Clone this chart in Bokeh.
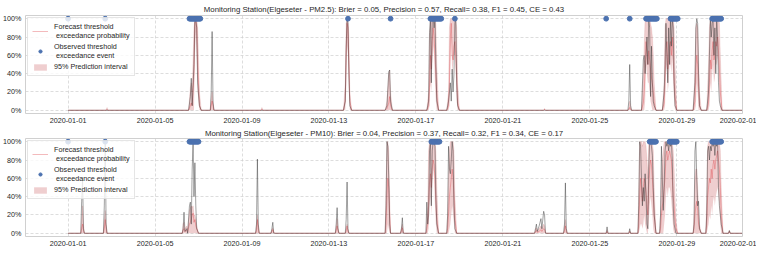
import numpy as np
import pandas as pd
from bokeh.plotting import figure
from bokeh.layouts import column
from bokeh.models import (ColumnDataSource, Range1d, FixedTicker, DatetimeTickFormatter,
                          NumeralTickFormatter, Legend, LegendItem)
from bokeh.embed import file_html
from bokeh.resources import INLINE

# ---------------- data (hours since 2020-01-01 00:00) ----------------
xtick_labels = ["2020-01-01", "2020-01-05", "2020-01-09", "2020-01-13", "2020-01-17",
                "2020-01-21", "2020-01-25", "2020-01-29", "2020-02-01"]
ytick_values = [0.0, 0.2, 0.4, 0.6, 0.8, 1.0]

titles = [
    "Monitoring Station(Elgeseter - PM2.5): Brier = 0.05, Precision = 0.57, Recall= 0.38, F1 = 0.45, CE = 0.43",
    "Monitoring Station(Elgeseter - PM10): Brier = 0.04, Precision = 0.37, Recall= 0.32, F1 = 0.34, CE = 0.17",
]

# PM2.5 keypoints: hour, forecast prob, lower, upper, black line
pm25_hours = [0, 42, 43, 44, 133, 135, 136, 137, 139, 140, 141, 142, 143, 145, 147,
              157, 158, 159, 160, 161, 213, 214, 215,
              304, 306, 307, 308, 309, 310, 311, 313,
              350, 352, 354, 355, 356, 358,
              396, 398, 399, 400, 401, 402, 403, 404, 405, 406, 407, 409,
              418, 420, 421, 422, 423, 424, 425, 426, 427, 428, 429, 430, 432,
              525, 526, 527, 618, 619, 620, 621, 622,
              633, 635, 636, 637, 638, 639, 640, 641, 642, 643, 644, 645, 646, 647, 649,
              656, 658, 659, 660, 661, 662, 663, 664, 665, 666, 667, 668, 669, 670, 672,
              690, 692, 693, 694, 695, 696, 697, 699,
              705, 707, 708, 709, 710, 711, 712, 713, 714, 715, 716, 717, 718, 719, 720, 722, 744]
pm25_prob = [0, 0, 0.01, 0, 0, 0.05, 0.08, 0.05, 0.40, 0.95, 1.0, 0.90, 0.50, 0.05, 0,
             0, 0.05, 0.10, 0.05, 0, 0, 0.01, 0,
             0, 0.10, 0.60, 0.95, 0.90, 0.50, 0.10, 0,
             0, 0.02, 0.08, 0.15, 0.05, 0,
             0, 0.05, 0.25, 0.60, 0.45, 0.75, 0.90, 0.80, 0.60, 0.40, 0.15, 0,
             0, 0.05, 0.30, 0.80, 0.95, 0.60, 0.55, 0.70, 0.75, 0.60, 0.35, 0.08, 0,
             0, 0.01, 0, 0, 0.01, 0.03, 0.01, 0,
             0, 0.08, 0.20, 0.45, 0.75, 0.60, 0.50, 0.65, 0.55, 0.45, 0.35, 0.30, 0.20, 0.08, 0,
             0, 0.08, 0.30, 0.65, 0.75, 0.45, 0.55, 0.70, 0.75, 0.60, 0.80, 0.55, 0.35, 0.15, 0,
             0, 0.10, 0.45, 0.60, 0.50, 0.25, 0.05, 0,
             0, 0.08, 0.30, 0.55, 0.45, 0.65, 0.75, 0.55, 0.60, 0.75, 0.70, 0.80, 0.65, 0.45, 0.20, 0, 0]
pm25_lower = [0, 0, 0, 0, 0, 0, 0, 0, 0, 0.60, 0.85, 0.60, 0.20, 0, 0,
              0, 0, 0, 0, 0, 0, 0, 0,
              0, 0, 0.20, 0.70, 0.60, 0.20, 0, 0,
              0, 0, 0, 0, 0, 0,
              0, 0, 0.05, 0.30, 0.20, 0.50, 0.70, 0.60, 0.30, 0.10, 0, 0,
              0, 0, 0.05, 0.50, 0.80, 0.40, 0.50, 0.60, 0.60, 0.40, 0.10, 0, 0,
              0, 0, 0, 0, 0, 0, 0, 0,
              0, 0, 0, 0.10, 0.50, 0.40, 0.30, 0.30, 0.20, 0.10, 0.05, 0, 0, 0, 0,
              0, 0, 0.05, 0.40, 0.50, 0.20, 0.30, 0.50, 0.50, 0.40, 0.60, 0.30, 0.10, 0, 0,
              0, 0, 0.05, 0.30, 0.20, 0, 0, 0,
              0, 0, 0.05, 0.30, 0.20, 0.40, 0.50, 0.30, 0.35, 0.50, 0.50, 0.60, 0.40, 0.20, 0, 0, 0]
pm25_upper = [0, 0, 0.03, 0, 0, 0.25, 0.30, 0.20, 0.90, 1.0, 1.0, 1.0, 0.90, 0.20, 0,
              0, 0.12, 0.20, 0.08, 0, 0, 0.03, 0,
              0, 0.30, 0.95, 1.0, 1.0, 0.80, 0.20, 0,
              0, 0.10, 0.40, 0.44, 0.20, 0,
              0, 0.20, 0.80, 1.0, 1.0, 1.0, 1.0, 1.0, 1.0, 0.95, 0.50, 0,
              0, 0.20, 0.90, 1.0, 1.0, 1.0, 1.0, 1.0, 1.0, 1.0, 0.90, 0.30, 0,
              0, 0.02, 0, 0, 0.03, 0.10, 0.05, 0,
              0, 0.40, 0.70, 1.0, 1.0, 1.0, 1.0, 1.0, 1.0, 0.95, 0.90, 0.80, 0.60, 0.30, 0,
              0, 0.30, 0.90, 1.0, 1.0, 1.0, 1.0, 1.0, 1.0, 1.0, 1.0, 1.0, 0.90, 0.50, 0,
              0, 0.40, 0.90, 0.95, 0.90, 0.60, 0.20, 0,
              0, 0.50, 0.90, 1.0, 1.0, 1.0, 1.0, 1.0, 1.0, 1.0, 1.0, 1.0, 1.0, 0.95, 0.60, 0, 0]
pm25_black = [0, 0, 0, 0, 0, 0.15, 0.35, 0.05, 0.50, 1.0, 0.98, 0.90, 0.30, 0.05, 0,
              0, 0.20, 0.86, 0.10, 0, 0, 0, 0,
              0, 0.10, 0.70, 1.0, 0.95, 0.40, 0.05, 0,
              0, 0.05, 0.42, 0.44, 0.10, 0,
              0, 0.10, 0.85, 1.0, 0.30, 1.0, 1.0, 0.90, 1.0, 0.50, 0.10, 0,
              0, 0.10, 0.20, 0.30, 0.10, 0.45, 0.20, 0.40, 0.95, 1.0, 0.30, 0.05, 0,
              0, 0, 0, 0, 0.10, 0.50, 0.05, 0,
              0, 0.55, 0.60, 0.40, 0.60, 0.80, 0.50, 1.0, 0.90, 0.15, 0.70, 0.30, 0.10, 0.05, 0,
              0, 0.20, 0.50, 0.95, 0.60, 0.30, 0.90, 0.50, 1.0, 0.70, 1.0, 0.90, 0.30, 0.05, 0,
              0, 0.30, 0.90, 1.0, 0.95, 0.40, 0.05, 0,
              0, 0.20, 0.60, 1.0, 0.80, 0.95, 1.0, 0.60, 0.90, 0.40, 1.0, 0.80, 0.30, 0.10, 0.05, 0, 0]
pm25_obs_runs = [(0, 0), (41, 41), (134, 146), (309, 309), (356, 356), (400, 412), (427, 427),
                 (594, 594), (620, 620), (638, 650), (665, 673), (711, 721)]

# PM10 keypoints
pm10_hours = [0, 14, 15, 16, 17, 18, 39, 40, 41, 42, 43,
              126, 127, 128, 129, 131, 132, 134, 135, 136, 137, 138, 139, 140, 141, 142, 144,
              207, 208, 209, 210, 211, 224, 225, 226, 227, 228,
              295, 296, 297, 298, 299, 306, 307, 308, 309, 310,
              350, 351, 352, 353, 354, 355, 356, 367, 368, 369, 370, 371,
              395, 396, 397, 398, 399, 400, 401, 402, 403, 404, 405, 406, 407, 409,
              418, 419, 420, 421, 422, 423, 424, 425, 426, 427, 429,
              515, 516, 517, 518, 520, 522, 523, 525, 526, 527, 528,
              547, 548, 549, 550, 551, 594, 595, 596, 619, 620, 621,
              629, 630, 631, 632, 633, 634, 635, 636, 637, 638, 639, 640, 641, 642, 643, 644, 645, 646, 647, 649,
              653, 654, 655, 656, 657, 658, 659, 660, 661, 662, 663, 664, 665, 666, 667, 668, 669, 670, 671, 673,
              690, 691, 692, 693, 694, 695, 696, 697, 699,
              704, 705, 706, 707, 708, 709, 710, 711, 712, 713, 714, 715, 716, 717, 718, 719, 720, 721, 723,
              729, 730, 731, 744]
pm10_prob = [0, 0, 0.05, 0.10, 0.03, 0, 0, 0.05, 0.15, 0.05, 0,
             0, 0.03, 0.05, 0.02, 0.03, 0.02, 0.10, 0.12, 0.15, 0.20, 0.22, 0.12, 0.15, 0.08, 0.05, 0,
             0, 0.03, 0.15, 0.05, 0, 0, 0.02, 0.04, 0.01, 0,
             0, 0.03, 0.08, 0.03, 0, 0, 0.03, 0.08, 0.02, 0,
             0, 0.10, 0.40, 0.60, 0.50, 0.20, 0, 0, 0.03, 0.06, 0.01, 0,
             0, 0.05, 0.10, 0.30, 0.55, 0.65, 0.50, 0.70, 0.80, 0.75, 0.60, 0.35, 0.15, 0,
             0, 0.05, 0.20, 0.40, 0.50, 0.60, 0.70, 0.60, 0.40, 0.15, 0,
             0, 0.02, 0.03, 0.01, 0.02, 0.04, 0.02, 0.05, 0.04, 0.01, 0,
             0, 0.03, 0.08, 0.02, 0, 0, 0.02, 0, 0, 0.02, 0,
             0, 0.10, 0.40, 0.60, 0.50, 0.35, 0.50, 0.60, 0.55, 0.45, 0.30, 0.20, 0.50, 0.70, 0.80, 0.75, 0.60, 0.40, 0.20, 0,
             0, 0.05, 0.20, 0.30, 0.35, 0.50, 0.60, 0.85, 0.90, 0.80, 0.85, 0.90, 0.85, 0.80, 0.60, 0.40, 0.30, 0.15, 0.05, 0,
             0, 0.05, 0.20, 0.30, 0.35, 0.25, 0.10, 0.05, 0,
             0, 0.10, 0.40, 0.50, 0.60, 0.55, 0.70, 0.60, 0.75, 0.80, 0.70, 0.80, 0.85, 0.90, 0.80, 0.70, 0.50, 0.20, 0,
             0, 0.02, 0, 0]
pm10_lower = [0, 0, 0, 0, 0, 0, 0, 0, 0, 0, 0,
              0, 0, 0, 0, 0, 0, 0, 0, 0, 0, 0, 0, 0, 0, 0, 0,
              0, 0, 0, 0, 0, 0, 0, 0, 0, 0,
              0, 0, 0, 0, 0, 0, 0, 0, 0, 0,
              0, 0, 0, 0.10, 0.05, 0, 0, 0, 0, 0, 0, 0,
              0, 0, 0, 0.05, 0.30, 0.40, 0.20, 0.50, 0.70, 0.60, 0.30, 0.10, 0, 0,
              0, 0, 0, 0.05, 0.10, 0.20, 0.30, 0.20, 0.10, 0, 0,
              0, 0, 0, 0, 0, 0, 0, 0, 0, 0, 0,
              0, 0, 0, 0, 0, 0, 0, 0, 0, 0, 0,
              0, 0, 0.05, 0.10, 0.10, 0.05, 0.10, 0.20, 0.10, 0.05, 0, 0, 0.10, 0.30, 0.40, 0.30, 0.20, 0.05, 0, 0,
              0, 0, 0, 0, 0, 0.10, 0.20, 0.40, 0.50, 0.40, 0.50, 0.50, 0.45, 0.35, 0.20, 0.05, 0, 0, 0, 0,
              0, 0, 0, 0, 0, 0, 0, 0, 0,
              0, 0, 0.05, 0.10, 0.20, 0.15, 0.30, 0.20, 0.35, 0.40, 0.30, 0.40, 0.45, 0.50, 0.40, 0.30, 0.10, 0, 0,
              0, 0, 0, 0]
pm10_upper = [0, 0, 0.15, 0.30, 0.10, 0, 0, 0.15, 0.25, 0.10, 0,
              0, 0.10, 0.12, 0.05, 0.08, 0.04, 0.25, 0.28, 0.30, 0.28, 0.30, 0.20, 0.20, 0.15, 0.08, 0,
              0, 0.08, 0.20, 0.08, 0, 0, 0.04, 0.06, 0.02, 0,
              0, 0.08, 0.16, 0.06, 0, 0, 0.05, 0.10, 0.04, 0,
              0, 0.50, 1.0, 1.0, 0.90, 0.40, 0, 0, 0.06, 0.10, 0.02, 0,
              0, 0.20, 0.30, 0.90, 1.0, 1.0, 1.0, 1.0, 1.0, 1.0, 1.0, 0.90, 0.50, 0,
              0, 0.20, 0.60, 0.90, 1.0, 1.0, 1.0, 1.0, 0.90, 0.40, 0,
              0, 0.05, 0.06, 0.03, 0.05, 0.08, 0.05, 0.10, 0.08, 0.02, 0,
              0, 0.08, 0.15, 0.05, 0, 0, 0.04, 0, 0, 0.03, 0,
              0, 0.50, 1.0, 1.0, 1.0, 0.95, 1.0, 1.0, 1.0, 0.95, 0.80, 0.60, 1.0, 1.0, 1.0, 1.0, 1.0, 0.90, 0.50, 0,
              0, 0.20, 0.60, 0.80, 0.90, 1.0, 1.0, 1.0, 1.0, 1.0, 1.0, 1.0, 1.0, 1.0, 1.0, 0.90, 0.70, 0.40, 0.15, 0,
              0, 0.20, 0.60, 0.70, 0.70, 0.50, 0.30, 0.10, 0,
              0, 0.40, 0.95, 1.0, 1.0, 1.0, 1.0, 1.0, 1.0, 1.0, 1.0, 1.0, 1.0, 1.0, 1.0, 1.0, 0.90, 0.50, 0,
              0, 0.03, 0, 0]
pm10_black = [0, 0, 0.35, 0.60, 0.05, 0, 0, 0.30, 1.0, 0.10, 0,
              0, 0.05, 0.23, 0.02, 0.05, 0, 0.30, 0.34, 0.10, 0.70, 1.0, 0.40, 0.77, 0.30, 0.05, 0,
              0, 0.10, 0.81, 0.10, 0, 0, 0.05, 0.12, 0, 0,
              0, 0.10, 0.28, 0.05, 0, 0, 0.15, 0.56, 0.05, 0,
              0, 0.30, 1.0, 0.95, 0.60, 0.10, 0, 0, 0.05, 0.17, 0, 0,
              0, 0.34, 0.10, 0.20, 0.90, 1.0, 0.30, 0.90, 1.0, 1.0, 0.95, 0.40, 0.10, 0,
              0, 0.20, 0.95, 0.70, 0.65, 0.80, 1.0, 0.90, 0.30, 0.05, 0,
              0, 0.05, 0.10, 0.02, 0.08, 0.16, 0.05, 0.24, 0.20, 0, 0,
              0, 0.10, 0.55, 0.05, 0, 0, 0.07, 0, 0, 0.05, 0,
              0, 0.30, 1.0, 0.95, 0.60, 0.30, 0.50, 0.35, 0.65, 0.40, 0.10, 0.05, 0.70, 1.0, 1.0, 0.95, 0.85, 0.50, 0.20, 0,
              0, 0.20, 0.95, 0.60, 0.25, 0.50, 0.90, 1.0, 0.95, 1.0, 0.90, 1.0, 0.95, 1.0, 0.80, 0.30, 0.10, 0.05, 0, 0,
              0, 0.10, 0.90, 1.0, 0.60, 0.30, 0.35, 0.05, 0,
              0, 0.20, 0.90, 0.95, 0.80, 0.95, 0.90, 1.0, 0.95, 1.0, 0.85, 1.0, 0.95, 1.0, 0.50, 0.30, 0.20, 0.10, 0,
              0, 0.03, 0, 0]
pm10_obs_runs = [(0, 0), (41, 41), (134, 144), (401, 410), (642, 649), (664, 672), (711, 721)]

# ---------------- styling ----------------
FONT = "Liberation Sans"
TXT = "#262626"
RED = "#e0474c"
PINK = "#c44e52"
BLUE = "#4c72b0"
BASE = np.datetime64("2020-01-01T00:00")
X_START = np.datetime64("2019-12-30T01:00")
X_END = np.datetime64("2020-02-01T00:30")


def to_time(hours):
    return BASE + (np.array(hours) * 60).astype("timedelta64[m]")


def make_plot(title, hours, prob, lower, upper, black, obs_runs, height, title_standoff):
    src = ColumnDataSource(dict(t=to_time(hours), p=prob, lo=lower, up=upper, b=black))
    obs_hours = [h for a, b in obs_runs for h in range(a, b + 1)]
    obs = ColumnDataSource(dict(t=to_time(obs_hours), y=[1.0] * len(obs_hours)))

    p = figure(width=756, height=height, x_axis_type="datetime",
               x_range=Range1d(X_START, X_END), y_range=Range1d(-0.035, 1.035),
               output_backend="svg", toolbar_location=None,
               min_border_left=20, min_border_right=14, min_border_top=0, min_border_bottom=0)
    p.title.text = title
    p.title.align = "center"
    p.title.text_font = FONT
    p.title.text_font_size = "7.8px"
    p.title.text_font_style = "normal"
    p.title.text_color = TXT
    p.title.standoff = title_standoff

    band = p.varea(x="t", y1="lo", y2="up", source=src, fill_color=PINK, fill_alpha=0.28)
    p.line(x="t", y="up", source=src, line_color=PINK, line_alpha=0.3, line_width=0.5)
    red = p.line(x="t", y="p", source=src, line_color=RED, line_alpha=0.75, line_width=0.5)
    p.line(x="t", y="b", source=src, line_color="#303030", line_alpha=0.75, line_width=0.6)
    dots = p.scatter(x="t", y="y", source=obs, size=4.8, fill_color=BLUE, line_color=BLUE)

    ticks = [int(v) for v in (pd.to_datetime(xtick_labels).astype("int64") // 10**6)]
    p.xaxis.ticker = FixedTicker(ticks=ticks)
    fmt = "%Y-%m-%d"
    p.xaxis.formatter = DatetimeTickFormatter(days=fmt, months=fmt, hours=fmt, years=fmt,
                                              hourmin=fmt, minutes=fmt)
    p.yaxis.ticker = FixedTicker(ticks=ytick_values)
    p.yaxis.formatter = NumeralTickFormatter(format="0%")
    for ax in (p.xaxis, p.yaxis):
        ax.axis_line_color = None
        ax.major_tick_line_color = None
        ax.minor_tick_line_color = None
        ax.major_tick_out = 0
        ax.major_tick_in = 0
        ax.major_label_text_font = FONT
        ax.major_label_text_font_size = "7.2px"
        ax.major_label_text_color = TXT
        ax.major_label_standoff = 4
    p.xgrid.ticker = FixedTicker(ticks=ticks)
    p.ygrid.ticker = FixedTicker(ticks=ytick_values)
    for g in (p.xgrid, p.ygrid):
        g.grid_line_color = "#cfcfcf"
        g.grid_line_dash = "3 2"
        g.grid_line_width = 0.7
    p.outline_line_color = "#d0d0d0"
    p.outline_line_width = 1
    p.background_fill_color = "white"

    legend = Legend(items=[
        LegendItem(label="Forecast threshold\n exceedance probability", renderers=[red]),
        LegendItem(label="Observed threshold\n exceedance event", renderers=[dots]),
        LegendItem(label="95% Prediction interval", renderers=[band]),
    ], location="top_left")
    legend.label_text_font = FONT
    legend.label_text_font_size = "7.2px"
    legend.label_text_color = TXT
    legend.glyph_width = 16
    legend.glyph_height = 8
    legend.label_standoff = 6
    legend.label_height = 8
    legend.spacing = 2
    legend.padding = 4
    legend.margin = 2
    legend.background_fill_alpha = 0.8
    legend.border_line_color = "#cccccc"
    legend.border_line_width = 0.8
    p.add_layout(legend)
    return p


p1 = make_plot(titles[0], pm25_hours, pm25_prob, pm25_lower, pm25_upper, pm25_black,
               pm25_obs_runs, 125, 4)
p2 = make_plot(titles[1], pm10_hours, pm10_prob, pm10_lower, pm10_upper, pm10_black,
               pm10_obs_runs, 123, 2)

layout = column(p1, p2, spacing=0)
open("out.html", "w").write(file_html(layout, INLINE))
